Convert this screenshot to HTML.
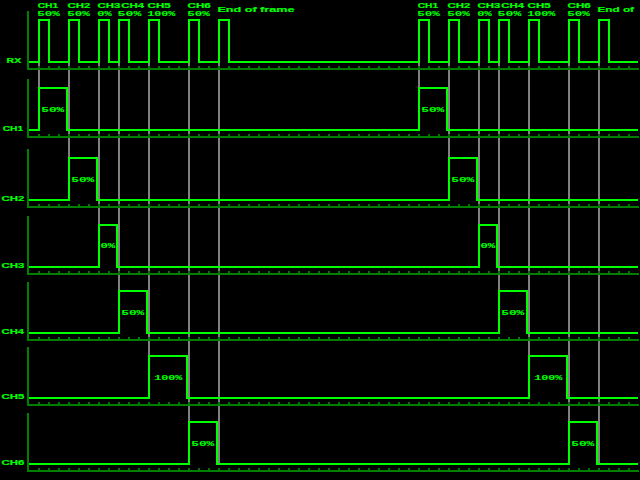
<!DOCTYPE html>
<html lang="en">
<head>
<meta charset="utf-8">
<title>PPM frame timing</title>
<style>
html,body{margin:0;padding:0;background:#000;overflow:hidden}
svg{display:block}
text{font-family:"Liberation Sans",sans-serif;font-weight:bold;font-size:7.3px;fill:#00ff00;stroke:#00ff00;stroke-width:.2px}
text.m{font-family:"Liberation Mono",monospace;font-size:7.6px;stroke-width:.08px}
</style>
</head>
<body>
<svg width="640" height="480" viewBox="0 0 640 480">
<rect width="640" height="480" fill="#000"/>
<g fill="#808080" shape-rendering="crispEdges">
<rect x="38" y="63" width="2" height="24"/>
<rect x="68" y="63" width="2" height="94"/>
<rect x="98" y="63" width="2" height="161"/>
<rect x="118" y="63" width="2" height="227"/>
<rect x="148" y="63" width="2" height="292"/>
<rect x="188" y="63" width="2" height="358"/>
<rect x="218" y="63" width="2" height="401"/>
<rect x="418" y="63" width="2" height="24"/>
<rect x="448" y="63" width="2" height="94"/>
<rect x="478" y="63" width="2" height="161"/>
<rect x="498" y="63" width="2" height="227"/>
<rect x="528" y="63" width="2" height="292"/>
<rect x="568" y="63" width="2" height="358"/>
<rect x="598" y="63" width="2" height="401"/>
</g>
<g fill="#008000" shape-rendering="crispEdges">
<rect x="27" y="11" width="2" height="59"/><rect x="27" y="68" width="612" height="2"/>
<rect x="27" y="79" width="2" height="59"/><rect x="27" y="136" width="612" height="2"/>
<rect x="27" y="149" width="2" height="59"/><rect x="27" y="206" width="612" height="2"/>
<rect x="27" y="216" width="2" height="59"/><rect x="27" y="273" width="612" height="2"/>
<rect x="27" y="282" width="2" height="59"/><rect x="27" y="339" width="612" height="2"/>
<rect x="27" y="347" width="2" height="59"/><rect x="27" y="404" width="612" height="2"/>
<rect x="27" y="413" width="2" height="59"/><rect x="27" y="470" width="612" height="2"/>
</g>
<g fill="#007400" shape-rendering="crispEdges">
<path d="M38 66h2v2h-2zM48 66h2v2h-2zM58 66h2v2h-2zM68 66h2v2h-2zM78 66h2v2h-2zM88 66h2v2h-2zM98 66h2v2h-2zM108 66h2v2h-2zM118 66h2v2h-2zM128 66h2v2h-2zM138 66h2v2h-2zM148 66h2v2h-2zM158 66h2v2h-2zM168 66h2v2h-2zM178 66h2v2h-2zM188 66h2v2h-2zM198 66h2v2h-2zM208 66h2v2h-2zM218 66h2v2h-2zM228 66h2v2h-2zM238 66h2v2h-2zM248 66h2v2h-2zM258 66h2v2h-2zM268 66h2v2h-2zM278 66h2v2h-2zM288 66h2v2h-2zM298 66h2v2h-2zM308 66h2v2h-2zM318 66h2v2h-2zM328 66h2v2h-2zM338 66h2v2h-2zM348 66h2v2h-2zM358 66h2v2h-2zM368 66h2v2h-2zM378 66h2v2h-2zM388 66h2v2h-2zM398 66h2v2h-2zM408 66h2v2h-2zM418 66h2v2h-2zM428 66h2v2h-2zM438 66h2v2h-2zM448 66h2v2h-2zM458 66h2v2h-2zM468 66h2v2h-2zM478 66h2v2h-2zM488 66h2v2h-2zM498 66h2v2h-2zM508 66h2v2h-2zM518 66h2v2h-2zM528 66h2v2h-2zM538 66h2v2h-2zM548 66h2v2h-2zM558 66h2v2h-2zM568 66h2v2h-2zM578 66h2v2h-2zM588 66h2v2h-2zM598 66h2v2h-2zM608 66h2v2h-2zM618 66h2v2h-2zM628 66h2v2h-2z"/>
<path d="M38 134h2v2h-2zM48 134h2v2h-2zM58 134h2v2h-2zM68 134h2v2h-2zM78 134h2v2h-2zM88 134h2v2h-2zM98 134h2v2h-2zM108 134h2v2h-2zM118 134h2v2h-2zM128 134h2v2h-2zM138 134h2v2h-2zM148 134h2v2h-2zM158 134h2v2h-2zM168 134h2v2h-2zM178 134h2v2h-2zM188 134h2v2h-2zM198 134h2v2h-2zM208 134h2v2h-2zM218 134h2v2h-2zM228 134h2v2h-2zM238 134h2v2h-2zM248 134h2v2h-2zM258 134h2v2h-2zM268 134h2v2h-2zM278 134h2v2h-2zM288 134h2v2h-2zM298 134h2v2h-2zM308 134h2v2h-2zM318 134h2v2h-2zM328 134h2v2h-2zM338 134h2v2h-2zM348 134h2v2h-2zM358 134h2v2h-2zM368 134h2v2h-2zM378 134h2v2h-2zM388 134h2v2h-2zM398 134h2v2h-2zM408 134h2v2h-2zM418 134h2v2h-2zM428 134h2v2h-2zM438 134h2v2h-2zM448 134h2v2h-2zM458 134h2v2h-2zM468 134h2v2h-2zM478 134h2v2h-2zM488 134h2v2h-2zM498 134h2v2h-2zM508 134h2v2h-2zM518 134h2v2h-2zM528 134h2v2h-2zM538 134h2v2h-2zM548 134h2v2h-2zM558 134h2v2h-2zM568 134h2v2h-2zM578 134h2v2h-2zM588 134h2v2h-2zM598 134h2v2h-2zM608 134h2v2h-2zM618 134h2v2h-2zM628 134h2v2h-2z"/>
<path d="M38 204h2v2h-2zM48 204h2v2h-2zM58 204h2v2h-2zM68 204h2v2h-2zM78 204h2v2h-2zM88 204h2v2h-2zM98 204h2v2h-2zM108 204h2v2h-2zM118 204h2v2h-2zM128 204h2v2h-2zM138 204h2v2h-2zM148 204h2v2h-2zM158 204h2v2h-2zM168 204h2v2h-2zM178 204h2v2h-2zM188 204h2v2h-2zM198 204h2v2h-2zM208 204h2v2h-2zM218 204h2v2h-2zM228 204h2v2h-2zM238 204h2v2h-2zM248 204h2v2h-2zM258 204h2v2h-2zM268 204h2v2h-2zM278 204h2v2h-2zM288 204h2v2h-2zM298 204h2v2h-2zM308 204h2v2h-2zM318 204h2v2h-2zM328 204h2v2h-2zM338 204h2v2h-2zM348 204h2v2h-2zM358 204h2v2h-2zM368 204h2v2h-2zM378 204h2v2h-2zM388 204h2v2h-2zM398 204h2v2h-2zM408 204h2v2h-2zM418 204h2v2h-2zM428 204h2v2h-2zM438 204h2v2h-2zM448 204h2v2h-2zM458 204h2v2h-2zM468 204h2v2h-2zM478 204h2v2h-2zM488 204h2v2h-2zM498 204h2v2h-2zM508 204h2v2h-2zM518 204h2v2h-2zM528 204h2v2h-2zM538 204h2v2h-2zM548 204h2v2h-2zM558 204h2v2h-2zM568 204h2v2h-2zM578 204h2v2h-2zM588 204h2v2h-2zM598 204h2v2h-2zM608 204h2v2h-2zM618 204h2v2h-2zM628 204h2v2h-2z"/>
<path d="M38 271h2v2h-2zM48 271h2v2h-2zM58 271h2v2h-2zM68 271h2v2h-2zM78 271h2v2h-2zM88 271h2v2h-2zM98 271h2v2h-2zM108 271h2v2h-2zM118 271h2v2h-2zM128 271h2v2h-2zM138 271h2v2h-2zM148 271h2v2h-2zM158 271h2v2h-2zM168 271h2v2h-2zM178 271h2v2h-2zM188 271h2v2h-2zM198 271h2v2h-2zM208 271h2v2h-2zM218 271h2v2h-2zM228 271h2v2h-2zM238 271h2v2h-2zM248 271h2v2h-2zM258 271h2v2h-2zM268 271h2v2h-2zM278 271h2v2h-2zM288 271h2v2h-2zM298 271h2v2h-2zM308 271h2v2h-2zM318 271h2v2h-2zM328 271h2v2h-2zM338 271h2v2h-2zM348 271h2v2h-2zM358 271h2v2h-2zM368 271h2v2h-2zM378 271h2v2h-2zM388 271h2v2h-2zM398 271h2v2h-2zM408 271h2v2h-2zM418 271h2v2h-2zM428 271h2v2h-2zM438 271h2v2h-2zM448 271h2v2h-2zM458 271h2v2h-2zM468 271h2v2h-2zM478 271h2v2h-2zM488 271h2v2h-2zM498 271h2v2h-2zM508 271h2v2h-2zM518 271h2v2h-2zM528 271h2v2h-2zM538 271h2v2h-2zM548 271h2v2h-2zM558 271h2v2h-2zM568 271h2v2h-2zM578 271h2v2h-2zM588 271h2v2h-2zM598 271h2v2h-2zM608 271h2v2h-2zM618 271h2v2h-2zM628 271h2v2h-2z"/>
<path d="M38 337h2v2h-2zM48 337h2v2h-2zM58 337h2v2h-2zM68 337h2v2h-2zM78 337h2v2h-2zM88 337h2v2h-2zM98 337h2v2h-2zM108 337h2v2h-2zM118 337h2v2h-2zM128 337h2v2h-2zM138 337h2v2h-2zM148 337h2v2h-2zM158 337h2v2h-2zM168 337h2v2h-2zM178 337h2v2h-2zM188 337h2v2h-2zM198 337h2v2h-2zM208 337h2v2h-2zM218 337h2v2h-2zM228 337h2v2h-2zM238 337h2v2h-2zM248 337h2v2h-2zM258 337h2v2h-2zM268 337h2v2h-2zM278 337h2v2h-2zM288 337h2v2h-2zM298 337h2v2h-2zM308 337h2v2h-2zM318 337h2v2h-2zM328 337h2v2h-2zM338 337h2v2h-2zM348 337h2v2h-2zM358 337h2v2h-2zM368 337h2v2h-2zM378 337h2v2h-2zM388 337h2v2h-2zM398 337h2v2h-2zM408 337h2v2h-2zM418 337h2v2h-2zM428 337h2v2h-2zM438 337h2v2h-2zM448 337h2v2h-2zM458 337h2v2h-2zM468 337h2v2h-2zM478 337h2v2h-2zM488 337h2v2h-2zM498 337h2v2h-2zM508 337h2v2h-2zM518 337h2v2h-2zM528 337h2v2h-2zM538 337h2v2h-2zM548 337h2v2h-2zM558 337h2v2h-2zM568 337h2v2h-2zM578 337h2v2h-2zM588 337h2v2h-2zM598 337h2v2h-2zM608 337h2v2h-2zM618 337h2v2h-2zM628 337h2v2h-2z"/>
<path d="M38 402h2v2h-2zM48 402h2v2h-2zM58 402h2v2h-2zM68 402h2v2h-2zM78 402h2v2h-2zM88 402h2v2h-2zM98 402h2v2h-2zM108 402h2v2h-2zM118 402h2v2h-2zM128 402h2v2h-2zM138 402h2v2h-2zM148 402h2v2h-2zM158 402h2v2h-2zM168 402h2v2h-2zM178 402h2v2h-2zM188 402h2v2h-2zM198 402h2v2h-2zM208 402h2v2h-2zM218 402h2v2h-2zM228 402h2v2h-2zM238 402h2v2h-2zM248 402h2v2h-2zM258 402h2v2h-2zM268 402h2v2h-2zM278 402h2v2h-2zM288 402h2v2h-2zM298 402h2v2h-2zM308 402h2v2h-2zM318 402h2v2h-2zM328 402h2v2h-2zM338 402h2v2h-2zM348 402h2v2h-2zM358 402h2v2h-2zM368 402h2v2h-2zM378 402h2v2h-2zM388 402h2v2h-2zM398 402h2v2h-2zM408 402h2v2h-2zM418 402h2v2h-2zM428 402h2v2h-2zM438 402h2v2h-2zM448 402h2v2h-2zM458 402h2v2h-2zM468 402h2v2h-2zM478 402h2v2h-2zM488 402h2v2h-2zM498 402h2v2h-2zM508 402h2v2h-2zM518 402h2v2h-2zM528 402h2v2h-2zM538 402h2v2h-2zM548 402h2v2h-2zM558 402h2v2h-2zM568 402h2v2h-2zM578 402h2v2h-2zM588 402h2v2h-2zM598 402h2v2h-2zM608 402h2v2h-2zM618 402h2v2h-2zM628 402h2v2h-2z"/>
<path d="M38 468h2v2h-2zM48 468h2v2h-2zM58 468h2v2h-2zM68 468h2v2h-2zM78 468h2v2h-2zM88 468h2v2h-2zM98 468h2v2h-2zM108 468h2v2h-2zM118 468h2v2h-2zM128 468h2v2h-2zM138 468h2v2h-2zM148 468h2v2h-2zM158 468h2v2h-2zM168 468h2v2h-2zM178 468h2v2h-2zM188 468h2v2h-2zM198 468h2v2h-2zM208 468h2v2h-2zM218 468h2v2h-2zM228 468h2v2h-2zM238 468h2v2h-2zM248 468h2v2h-2zM258 468h2v2h-2zM268 468h2v2h-2zM278 468h2v2h-2zM288 468h2v2h-2zM298 468h2v2h-2zM308 468h2v2h-2zM318 468h2v2h-2zM328 468h2v2h-2zM338 468h2v2h-2zM348 468h2v2h-2zM358 468h2v2h-2zM368 468h2v2h-2zM378 468h2v2h-2zM388 468h2v2h-2zM398 468h2v2h-2zM408 468h2v2h-2zM418 468h2v2h-2zM428 468h2v2h-2zM438 468h2v2h-2zM448 468h2v2h-2zM458 468h2v2h-2zM468 468h2v2h-2zM478 468h2v2h-2zM488 468h2v2h-2zM498 468h2v2h-2zM508 468h2v2h-2zM518 468h2v2h-2zM528 468h2v2h-2zM538 468h2v2h-2zM548 468h2v2h-2zM558 468h2v2h-2zM568 468h2v2h-2zM578 468h2v2h-2zM588 468h2v2h-2zM598 468h2v2h-2zM608 468h2v2h-2zM618 468h2v2h-2zM628 468h2v2h-2z"/>
</g>
<g fill="none" stroke="#00ff00" stroke-width="2" stroke-linejoin="miter" shape-rendering="crispEdges">
<path d="M29 62H39V20H49V62H69V20H79V62H99V20H109V62H119V20H129V62H149V20H159V62H189V20H199V62H219V20H229V62H419V20H429V62H449V20H459V62H479V20H489V62H499V20H509V62H529V20H539V62H569V20H579V62H599V20H609V62H638"/>
<path d="M29 130H39V88H67V130H419V88H447V130H638"/>
<path d="M29 200H69V158H97V200H449V158H477V200H638"/>
<path d="M29 267H99V225H117V267H479V225H497V267H638"/>
<path d="M29 333H119V291H147V333H499V291H527V333H638"/>
<path d="M29 398H149V356H187V398H529V356H567V398H638"/>
<path d="M29 464H189V422H217V464H569V422H597V464H638"/>
</g>
<g>
<text x="6.53" y="63" textLength="14.73" lengthAdjust="spacingAndGlyphs">RX</text>
<text x="2.71" y="131" textLength="20.48" lengthAdjust="spacingAndGlyphs">CH1</text>
<text x="1.6" y="201" textLength="22.82" lengthAdjust="spacingAndGlyphs">CH2</text>
<text x="1.6" y="268" textLength="22.77" lengthAdjust="spacingAndGlyphs">CH3</text>
<text x="1.59" y="334" textLength="22.37" lengthAdjust="spacingAndGlyphs">CH4</text>
<text x="1.6" y="399" textLength="22.77" lengthAdjust="spacingAndGlyphs">CH5</text>
<text x="1.61" y="465" textLength="22.8" lengthAdjust="spacingAndGlyphs">CH6</text>
<text x="37.71" y="8" textLength="20.54" lengthAdjust="spacingAndGlyphs">CH1</text>
<text class="m" x="37.2" y="16" textLength="22.64" lengthAdjust="spacingAndGlyphs">50%</text>
<text x="67.6" y="8" textLength="22.82" lengthAdjust="spacingAndGlyphs">CH2</text>
<text class="m" x="67.2" y="16" textLength="22.64" lengthAdjust="spacingAndGlyphs">50%</text>
<text x="97.6" y="8" textLength="22.77" lengthAdjust="spacingAndGlyphs">CH3</text>
<text class="m" x="97.38" y="16" textLength="14.47" lengthAdjust="spacingAndGlyphs">0%</text>
<text x="121.36" y="8" textLength="22.58" lengthAdjust="spacingAndGlyphs">CH4</text>
<text class="m" x="117.6" y="16" textLength="23.7" lengthAdjust="spacingAndGlyphs">50%</text>
<text x="147.61" y="8" textLength="22.96" lengthAdjust="spacingAndGlyphs">CH5</text>
<text class="m" x="147.15" y="16" textLength="28.22" lengthAdjust="spacingAndGlyphs">100%</text>
<text x="187.61" y="8" textLength="23.11" lengthAdjust="spacingAndGlyphs">CH6</text>
<text class="m" x="187.2" y="16" textLength="22.64" lengthAdjust="spacingAndGlyphs">50%</text>
<text x="217.46" y="12" textLength="76.96" lengthAdjust="spacingAndGlyphs">End of frame</text>
<text class="m" x="41.19" y="112" textLength="23.13" lengthAdjust="spacingAndGlyphs">50%</text>
<text class="m" x="71.19" y="182" textLength="23.13" lengthAdjust="spacingAndGlyphs">50%</text>
<text class="m" x="100.49" y="248" textLength="14.75" lengthAdjust="spacingAndGlyphs">0%</text>
<text class="m" x="121.19" y="315" textLength="23.13" lengthAdjust="spacingAndGlyphs">50%</text>
<text class="m" x="154.15" y="380" textLength="28.22" lengthAdjust="spacingAndGlyphs">100%</text>
<text class="m" x="191.19" y="446" textLength="23.13" lengthAdjust="spacingAndGlyphs">50%</text>
<text x="417.71" y="8" textLength="20.54" lengthAdjust="spacingAndGlyphs">CH1</text>
<text class="m" x="417.2" y="16" textLength="22.64" lengthAdjust="spacingAndGlyphs">50%</text>
<text x="447.6" y="8" textLength="22.82" lengthAdjust="spacingAndGlyphs">CH2</text>
<text class="m" x="447.2" y="16" textLength="22.64" lengthAdjust="spacingAndGlyphs">50%</text>
<text x="477.6" y="8" textLength="22.77" lengthAdjust="spacingAndGlyphs">CH3</text>
<text class="m" x="477.38" y="16" textLength="14.47" lengthAdjust="spacingAndGlyphs">0%</text>
<text x="501.36" y="8" textLength="22.58" lengthAdjust="spacingAndGlyphs">CH4</text>
<text class="m" x="497.6" y="16" textLength="23.7" lengthAdjust="spacingAndGlyphs">50%</text>
<text x="527.61" y="8" textLength="22.96" lengthAdjust="spacingAndGlyphs">CH5</text>
<text class="m" x="527.15" y="16" textLength="28.22" lengthAdjust="spacingAndGlyphs">100%</text>
<text x="567.61" y="8" textLength="23.11" lengthAdjust="spacingAndGlyphs">CH6</text>
<text class="m" x="567.2" y="16" textLength="22.64" lengthAdjust="spacingAndGlyphs">50%</text>
<text x="597.46" y="12" textLength="36.56" lengthAdjust="spacingAndGlyphs">End of</text>
<text class="m" x="421.19" y="112" textLength="23.13" lengthAdjust="spacingAndGlyphs">50%</text>
<text class="m" x="451.19" y="182" textLength="23.13" lengthAdjust="spacingAndGlyphs">50%</text>
<text class="m" x="480.49" y="248" textLength="14.75" lengthAdjust="spacingAndGlyphs">0%</text>
<text class="m" x="501.19" y="315" textLength="23.13" lengthAdjust="spacingAndGlyphs">50%</text>
<text class="m" x="534.15" y="380" textLength="28.22" lengthAdjust="spacingAndGlyphs">100%</text>
<text class="m" x="571.19" y="446" textLength="23.13" lengthAdjust="spacingAndGlyphs">50%</text>
</g>
</svg>
</body>
</html>
